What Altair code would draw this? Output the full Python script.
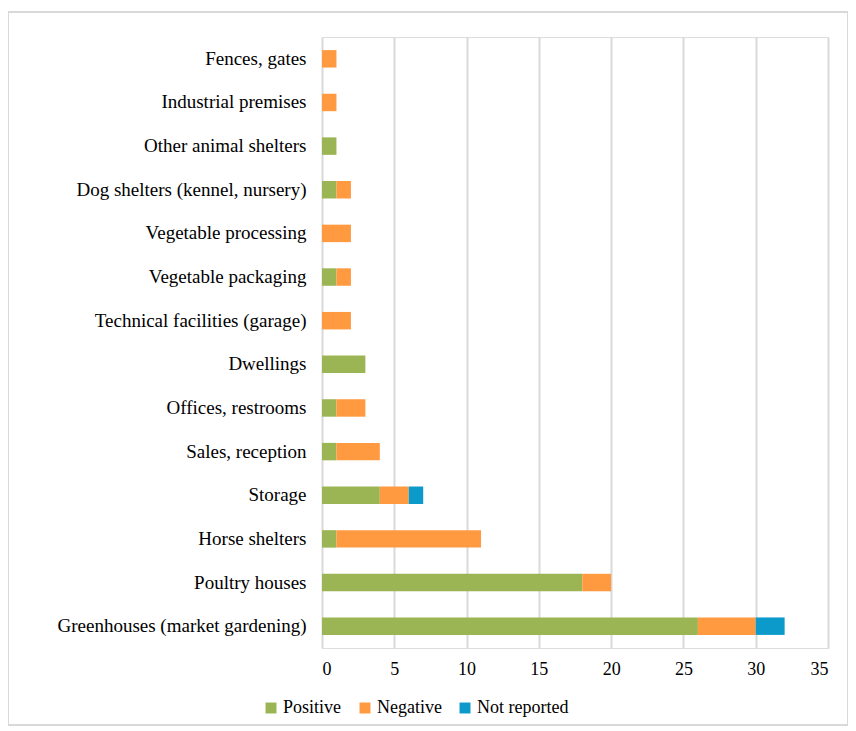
import altair as alt
import pandas as pd

categories = [
    "Fences, gates",
    "Industrial premises",
    "Other animal shelters",
    "Dog shelters (kennel, nursery)",
    "Vegetable processing",
    "Vegetable packaging",
    "Technical facilities (garage)",
    "Dwellings",
    "Offices, restrooms",
    "Sales, reception",
    "Storage",
    "Horse shelters",
    "Poultry houses",
    "Greenhouses (market gardening)",
]
positive = [0, 0, 1, 1, 0, 1, 0, 3, 1, 1, 4, 1, 18, 26]
negative = [1, 1, 0, 1, 2, 1, 2, 0, 2, 3, 2, 10, 2, 4]
not_reported = [0, 0, 0, 0, 0, 0, 0, 0, 0, 0, 1, 0, 0, 2]

series = ["Positive", "Negative", "Not reported"]
colors = ["#9BB554", "#FF9A40", "#0C9ACB"]

rows = []
for i, c in enumerate(categories):
    for k, (s, vals) in enumerate(zip(series, [positive, negative, not_reported])):
        rows.append({"category": c, "series": s, "value": vals[i], "order": k})
df = pd.DataFrame(rows)

FONT = "Liberation Serif"

bars = alt.Chart(df).mark_bar().encode(
    y=alt.Y("category:N", sort=categories, title=None,
            scale=alt.Scale(paddingInner=0.6, paddingOuter=0.3),
            axis=alt.Axis(domain=False, ticks=False, labelFont=FONT, labelFontSize=19,
                          labelColor="#000000", labelPadding=16, labelLimit=400)),
    x=alt.X("value:Q", stack="zero", title=None,
            scale=alt.Scale(domain=[0, 35]),
            axis=alt.Axis(values=[0, 5, 10, 15, 20, 25, 30, 35], grid=True,
                          gridColor="#D9D9D9", gridWidth=2, domain=False, ticks=False,
                          labelFont=FONT, labelFontSize=18, labelColor="#000000",
                          labelPadding=12)),
    color=alt.Color("series:N", sort=series, title=None,
                    scale=alt.Scale(domain=series, range=colors),
                    legend=alt.Legend(orient="none", legendX=-60, legendY=662,
                                      direction="horizontal", symbolType="square",
                                      symbolSize=120, symbolStrokeWidth=0,
                                      labelFont=FONT, labelFontSize=18, labelColor="#000000",
                                      columnPadding=14, labelOffset=3)),
    order=alt.Order("order:Q"),
)

border = alt.Chart(pd.DataFrame({"a": [0]})).mark_rect(
    fill=None, stroke="#D9D9D9", strokeWidth=2, clip=False
).encode(
    x=alt.value(-314), x2=alt.value(526),
    y=alt.value(-25), y2=alt.value(688),
)

chart = alt.layer(border, bars).properties(
    width=506, height=611,
    padding={"left": 314, "top": 29, "right": 20, "bottom": 80},
    autosize=alt.AutoSizeParams(type="none"),
).configure_view(stroke=None).configure(background="white")

chart.save("out.html", embed_options={"renderer": "svg", "actions": False})
